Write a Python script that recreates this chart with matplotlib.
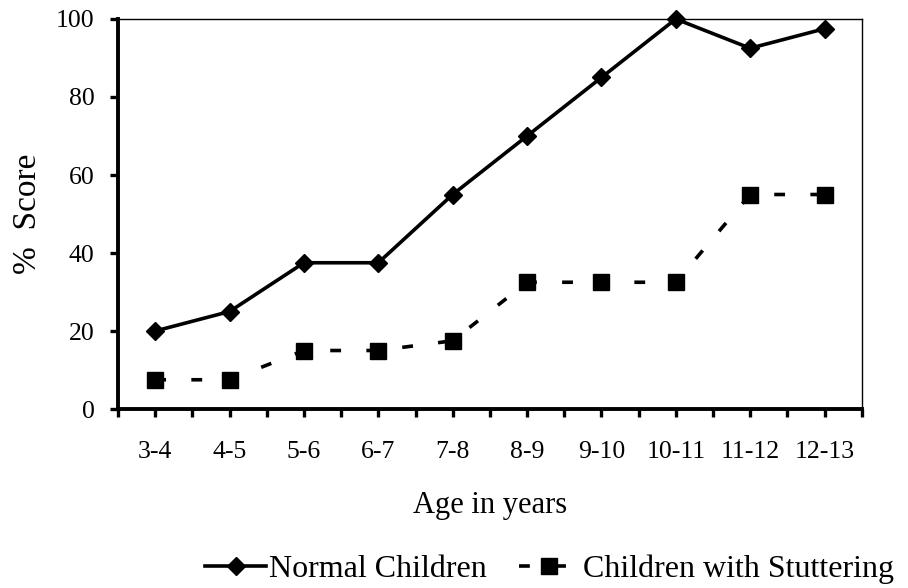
import matplotlib
matplotlib.use("Agg")
import matplotlib.pyplot as plt
from matplotlib.ticker import MultipleLocator

categories = ["3-4", "4-5", "5-6", "6-7", "7-8", "8-9", "9-10", "10-11", "11-12", "12-13"]
normal = [20, 25, 37.5, 37.5, 55, 70, 85, 100, 92.5, 97.5]
stuttering = [7.5, 7.5, 15, 15, 17.5, 32.5, 32.5, 32.5, 55, 55]

plt.rcParams['font.family'] = ['Liberation Serif', 'DejaVu Serif']

fig = plt.figure(figsize=(9.08, 5.88), dpi=100)
ax = fig.add_axes([0.13, 0.3044, 0.819, 0.6633])

x = list(range(len(categories)))
ax.plot(x, normal, color='black', lw=2.6, marker='D', markersize=9.5,
        label='Normal Children', clip_on=False, zorder=3)
ax.plot(x, stuttering, color='black', lw=2.6, linestyle=(0, (3, 7)),
        marker='s', markersize=11, label='Children with Stuttering',
        clip_on=False, zorder=3)

ax.set_xlim(-0.5, len(categories) - 0.5)
ax.set_ylim(0, 100)
ax.set_xticks(x)
ax.set_xticklabels(categories)
ax.set_xticks([i + 0.5 for i in range(-1, len(categories))], minor=True)
ax.yaxis.set_major_locator(MultipleLocator(20))

for s in ['left', 'bottom']:
    ax.spines[s].set_linewidth(2.8)
for s in ['top', 'right']:
    ax.spines[s].set_linewidth(1.0)

ax.tick_params(axis='both', which='both', direction='out', width=2.4,
               length=6, labelsize=18.5, color='black')
ax.tick_params(axis='x', pad=17)
ax.tick_params(axis='y', pad=11)

ax.set_xlabel('Age in years', fontsize=22, labelpad=20)
ax.set_ylabel('%  Score', fontsize=24, labelpad=9)

leg = fig.legend(loc='lower right', bbox_to_anchor=(1.016, -0.042), ncol=2,
                 frameon=False, fontsize=23, handlelength=1.9, columnspacing=1.0,
                 handletextpad=0.1)

fig.savefig('out.png', dpi=100)
